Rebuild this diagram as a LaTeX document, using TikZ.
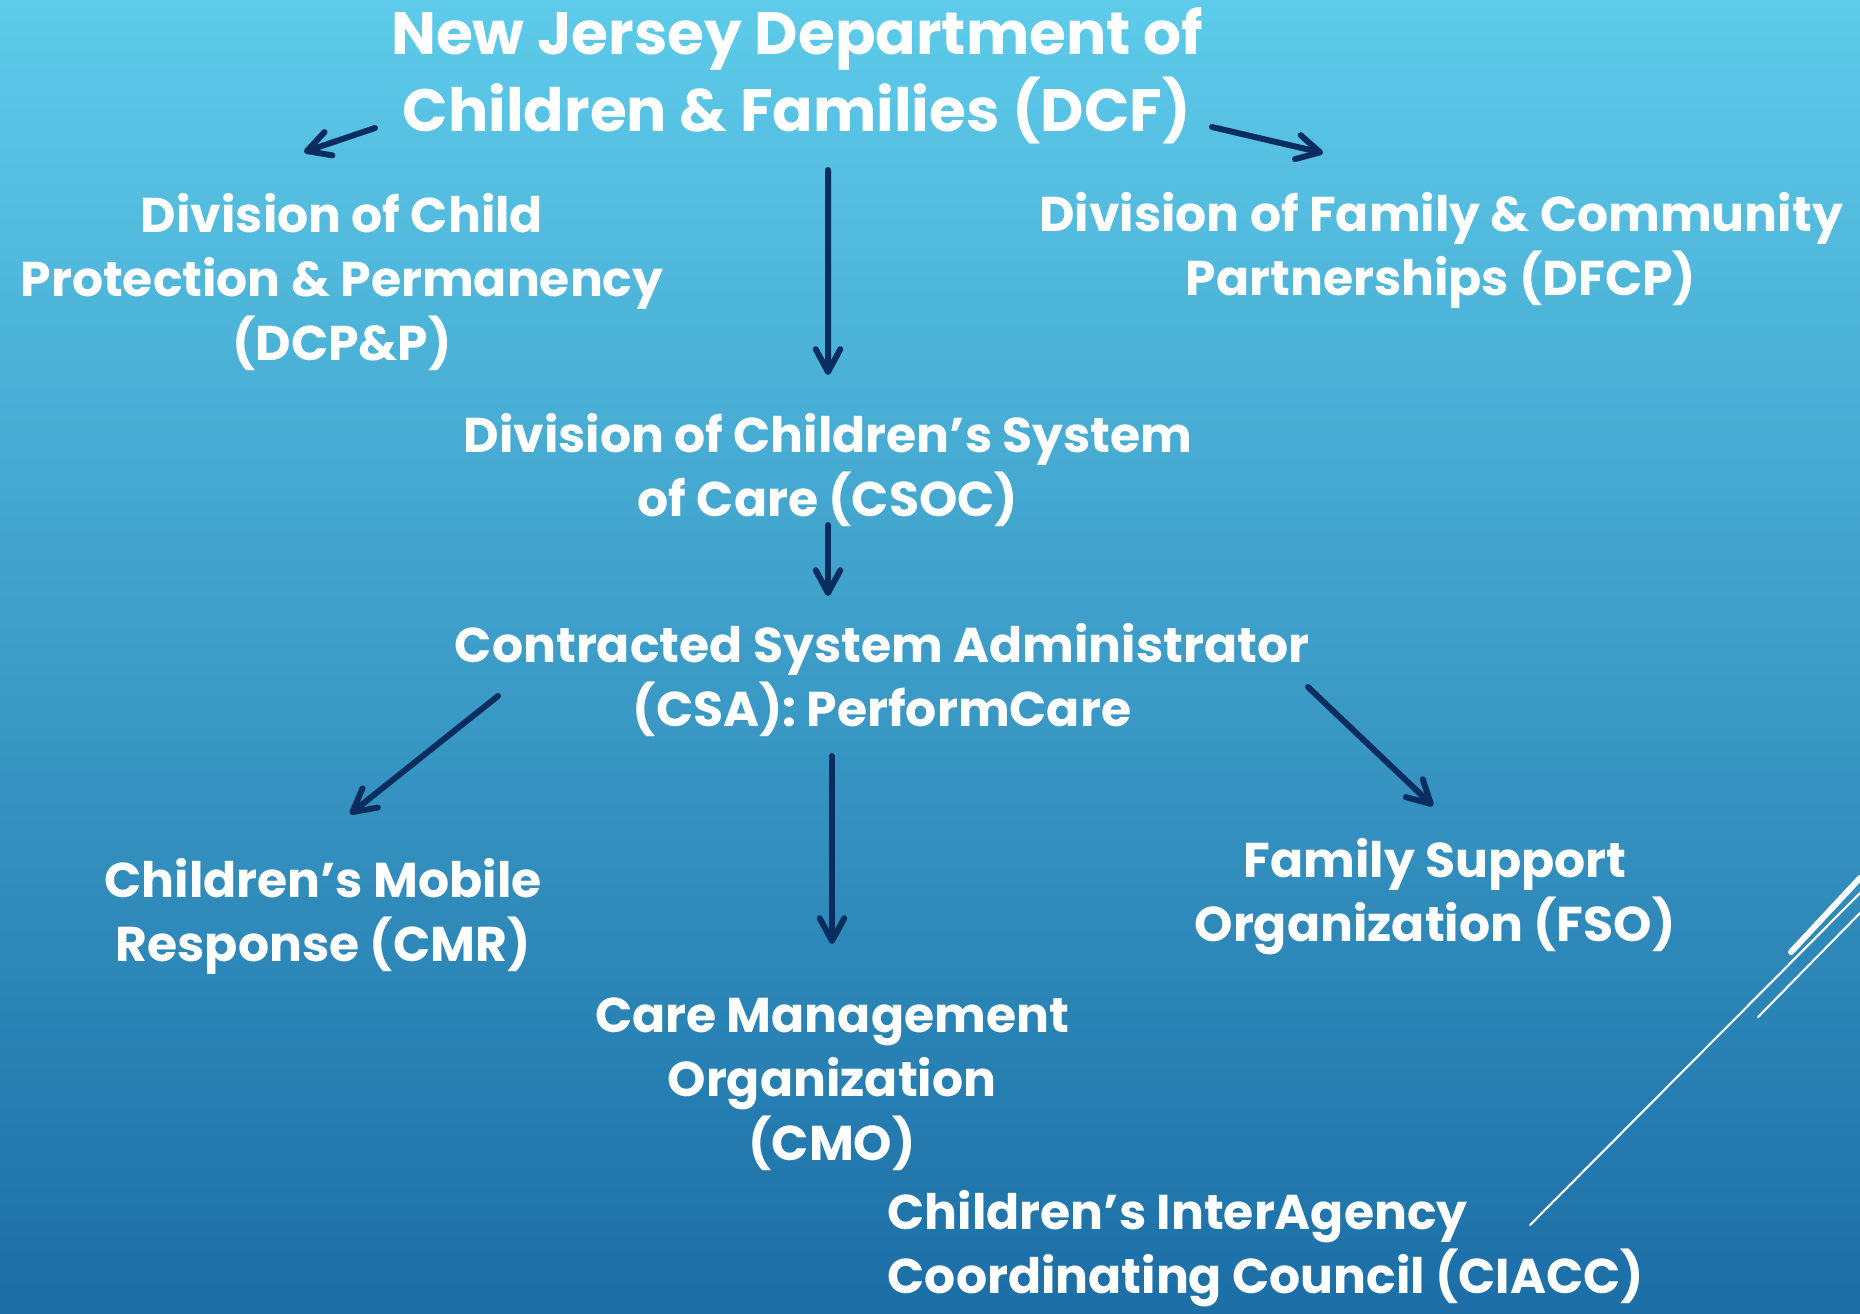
\documentclass[tikz,border=0pt]{standalone}
\usepackage{fontspec}
\setmainfont{Poppins}
\usepackage{xcolor}
\usepackage{tikz}
\usetikzlibrary{arrows.meta, positioning}
\definecolor{bgtop}{HTML}{5ECBEA}
\definecolor{bgbot}{HTML}{1B6EA6}
\definecolor{navy}{HTML}{0A2D5F}
\tikzstyle{head} = [align=center, text=white, inner sep=0pt, font=\bfseries\fontsize{17}{22}\selectfont]
\tikzstyle{unit} = [align=center, text=white, inner sep=0pt, font=\bfseries\fontsize{13.9}{18.2}\selectfont]
\tikzstyle{arrow} = [line width=1.7pt, line cap=round, draw=navy, -{Straight Barb[length=6.5pt, width=7pt, round]}]
\tikzstyle{deco} = [draw=white, line cap=round]

\begin{document}
\begin{tikzpicture}[node distance=2.1cm]

% background
\shade[top color=bgtop, bottom color=bgbot] (0,0) rectangle (18.6,-13.13);
\useasboundingbox (0,0) rectangle (18.6,-13.13);

\node (dcf) [head] at (7.97,-0.76) {New Jersey Department of\\Children \& Families (DCF)};

\node (dcpp) [unit, below of=dcf, xshift=-4.55cm, yshift=0.04cm] {Division of Child\\Protection \& Permanency\\(DCP\&P)};
\node (dfcp) [unit, below of=dcf, xshift=6.44cm, yshift=0.36cm] {Division of Family \& Community\\Partnerships (DFCP)};
\node (csoc) [unit, below of=dcf, node distance=3.94cm, xshift=0.31cm] {Division of Children’s System\\of Care (CSOC)};

\node (csa) [unit, below of=csoc, xshift=0.54cm] {Contracted System Administrator\\(CSA): PerformCare};

\node (cmr) [unit, below of=csa, xshift=-5.59cm, yshift=-0.26cm] {Children’s Mobile\\Response (CMR)};
\node (fso) [unit, below of=csa, xshift=5.53cm, yshift=-0.07cm] {Family Support\\Organization (FSO)};
\node (cmo) [unit, below of=csa, node distance=4.04cm, xshift=-0.50cm] {Care Management\\Organization\\(CMO)};

\node (ciacc) [unit, align=left, below of=cmo, node distance=1.65cm, anchor=west, xshift=0.55cm] {Children’s InterAgency\\Coordinating Council (CIACC)};

\draw [arrow] ([shift={(-4.22,-0.52)}]dcf.center) -- ([shift={(-0.38,1.30)}]dcpp.center);
\draw [arrow] ([shift={(4.15,-0.51)}]dcf.center) -- ([shift={(-1.18,0.97)}]dfcp.center);
\draw [arrow] ([shift={(0.31,-0.94)}]dcf.center) -- ([shift={(0,0.95)}]csoc.center);

\draw [arrow] ([shift={(0,-0.55)}]csoc.center) -- ([shift={(-0.54,0.84)}]csa.center);

\draw [arrow] ([shift={(-3.84,-0.16)}]csa.center) -- ([shift={(0.27,1.02)}]cmr.center);
\draw [arrow] ([shift={(-0.50,-0.76)}]csa.center) -- ([shift={(0,1.40)}]cmo.center);
\draw [arrow] ([shift={(4.26,-0.07)}]csa.center) -- ([shift={(-0.02,0.91)}]fso.center);

% corner lines
\draw [deco, line width=1.7pt] (17.91,-9.52) -- (18.6,-8.78);
\draw [deco, line width=0.6pt] (15.30,-12.25) -- (18.6,-8.93);
\draw [deco, line width=0.6pt] (17.58,-10.17) -- (18.6,-9.13);

\end{tikzpicture}
\end{document}
